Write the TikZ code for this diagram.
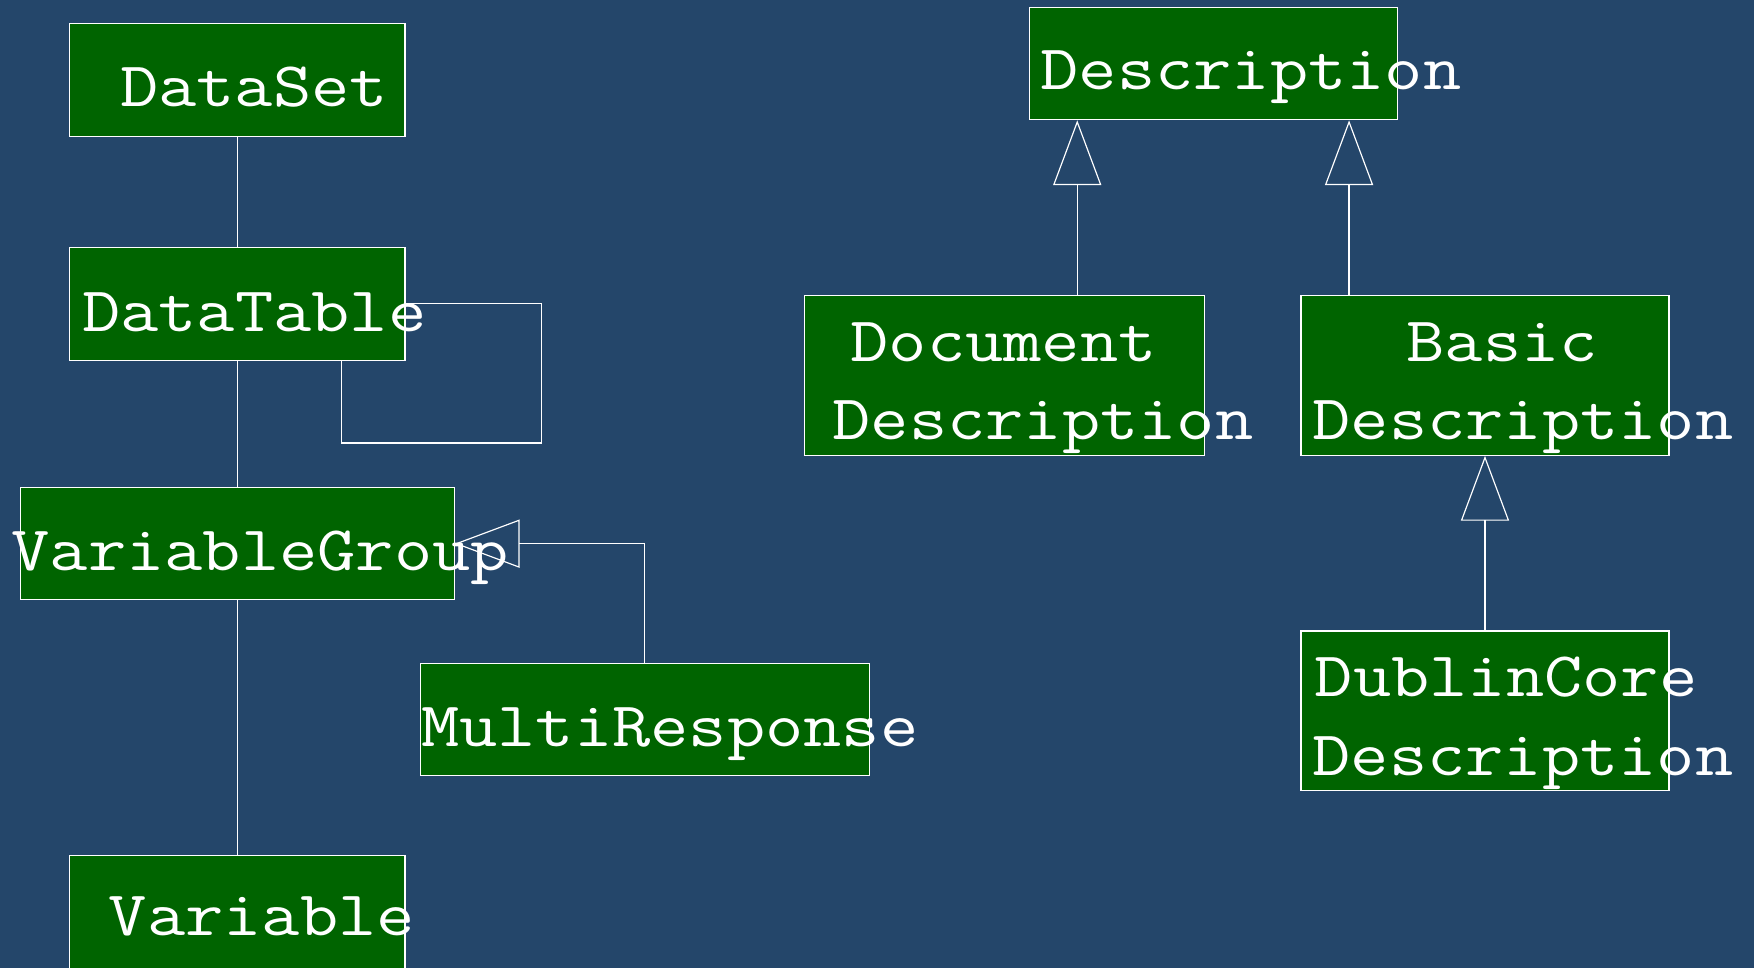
\documentclass[tikz,border=0pt]{standalone}
\usepackage{fontspec}
\newfontfamily\monofont[FakeStretch = 1.17]{Latin Modern Mono}
\usetikzlibrary{arrows.meta,fit}

\definecolor{bgblue}{RGB}{36,70,106}
\definecolor{boxgreen}{RGB}{0,100,0}

\tikzset{
    cls/.style = {draw = white, fill = boxgreen, line width = .6pt, inner sep = 0pt},
    lbl/.style = {text = white, inner sep = 0pt, anchor = base west, font = \monofont\fontsize{32.3}{39.8}\selectfont},
    link/.style = {draw = white, line width = .6pt},
    gen/.style = {link, -{Triangle[open, length = 33pt, width = 24.5pt]}}
}

\begin{document}
\begin{tikzpicture}[x = .02cm, y = -.02cm]
    \fill[bgblue] (0, 0) rectangle (1568, 865);

    % left column
    \node[cls, fit = {(62, 21) (362, 122)}] (dataset) {};
    \node[cls, fit = {(62, 221) (362, 322)}] (datatable) {};
    \node[cls, fit = {(18, 436) (406, 536)}] (vargroup) {};
    \node[cls, fit = {(376, 593) (777, 693)}] (multiresp) {};
    \node[cls, fit = {(62, 765) (362, 866)}] (variable) {};

    \node[lbl] (dataset-l) at (107, 95) {DataSet};
    \node[lbl] (datatable-l) at (73, 296) {DataTable};
    \node[lbl] (vargroup-l) at (10, 510) {VariableGroup};
    \node[lbl] (multiresp-l) at (376, 667) {MultiResponse};
    \node[lbl] (variable-l) at (97, 836) {Variable};

    \draw[link] (dataset) -- (datatable);
    \draw[link] (datatable) -- (vargroup);
    \draw[link] (vargroup) -- (variable);

    \coordinate (loop) at (484, 396);
    \coordinate (loopin) at (305, 396);
    \draw[link] (datatable.east) -| (loop) -- (loopin) -- (loopin |- datatable.south);

    \draw[gen] (multiresp) |- (vargroup);

    %%%%%%%%%%%%%%%%%%%%
    \node[cls, fit = {(920, 7) (1249, 107)}] (desc) {};
    \node[cls, fit = {(719, 264) (1077, 407)}] (docdesc) {};
    \node[cls, fit = {(1163, 264) (1492, 407)}] (basicdesc) {};
    \node[cls, fit = {(1163, 564) (1492, 707)}] (dcdesc) {};

    \node[lbl] (desc-l) at (930, 80) {Description};
    \node[lbl] (docdesc-l) at (760, 323) {Document};
    \node[lbl] (docdesc-ll) at (744, 393) {Description};
    \node[lbl] (basicdesc-l) at (1257, 323) {Basic};
    \node[lbl] (basicdesc-ll) at (1173, 393) {Description};
    \node[lbl] (dcdesc-l) at (1175, 623) {DublinCore};
    \node[lbl] (dcdesc-ll) at (1173, 693) {Description};

    \coordinate (ddtop) at (963, 264);
    \coordinate (bdtop) at (1206, 264);
    \draw[gen] (ddtop) -- (ddtop |- desc.south);
    \draw[gen] (bdtop) -- (bdtop |- desc.south);
    \draw[gen] (dcdesc) -- (basicdesc);
\end{tikzpicture}
\end{document}
